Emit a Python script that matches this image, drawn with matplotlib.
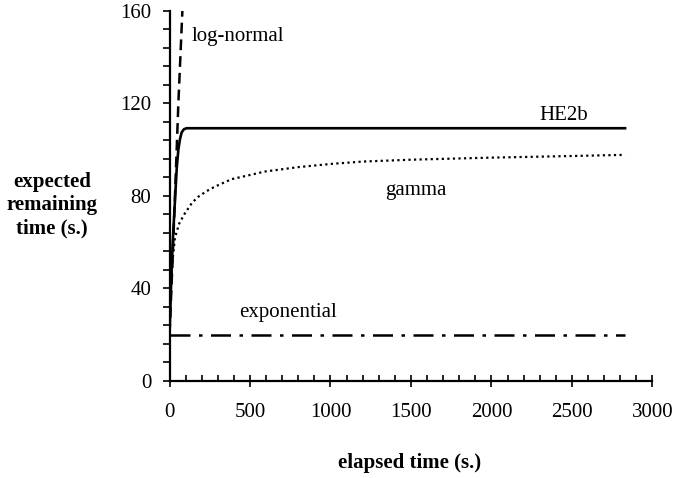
import matplotlib

matplotlib.use("Agg")
import matplotlib.pyplot as plt
from matplotlib.ticker import MultipleLocator

plt.rcParams.update(
    {
        "font.family": ["Liberation Serif", "DejaVu Serif"],
        "font.size": 15,
    }
)

# %% Data

exp_x = [0, 2830]
exp_y = [20, 20]

he2b_x = [0, 10, 20, 30, 45, 55, 65, 76, 90, 107, 2830]
he2b_y = [20, 42, 60, 73, 92, 100, 104.5, 107.5, 108.8, 109.2, 109.2]

lognorm_x = [0, 10, 20, 34, 55, 80, 95]
lognorm_y = [20, 37, 54, 80, 120, 160, 186]

gamma_x = [0, 5, 10, 20, 34, 60, 96, 140, 179, 230, 283, 386, 500, 593,
           800, 1007, 1200, 1500, 2000, 2500, 2830]
gamma_y = [20, 36, 44, 53, 62, 68, 72.5, 77, 79.6, 82, 84, 87.2, 89, 90.5,
           92.4, 93.8, 94.8, 95.6, 96.5, 97.2, 97.7]

labels = ["log-normal", "HE2b", "gamma", "exponential"]
label_pos = [(140, 149), (2300, 114.5), (1340, 82.5), (430, 29.7)]

# %% Plot

fig = plt.figure(figsize=(6.74, 4.78), dpi=100)
ax = fig.add_axes([0.2515, 0.203, 0.7165, 0.7747])

ax.plot(exp_x, exp_y, c="k", lw=1.8, ls=(0, (8, 3.4, 1.4, 3.4)))
ax.plot(he2b_x, he2b_y, c="k", lw=1.9, ls="-")
ax.plot(lognorm_x, lognorm_y, c="k", lw=1.8, ls=(0, (4.3, 2.4)))
ax.plot(gamma_x, gamma_y, c="k", lw=1.6, ls=(0, (1.0, 1.5)))

for text, (tx, ty) in zip(labels, label_pos):
    ax.text(tx, ty, text, ha="left", va="center", fontsize=15)

ax.set_xlim(0, 3000)
ax.set_ylim(0, 160)

ax.xaxis.set_major_locator(MultipleLocator(500))
ax.xaxis.set_minor_locator(MultipleLocator(100))
ax.yaxis.set_major_locator(MultipleLocator(40))
ax.yaxis.set_minor_locator(MultipleLocator(8))

ax.tick_params(axis="x", which="major", direction="inout", length=8,
               width=1.2, pad=12)
ax.tick_params(axis="x", which="minor", direction="in", length=4, width=1.2)
ax.tick_params(axis="y", which="both", direction="out", length=5,
               width=1.2, pad=8)

ax.spines[["top", "right"]].set_visible(False)
for s in ["left", "bottom"]:
    ax.spines[s].set_linewidth(1.6)

fig.text(52 / 674, 1 - 205 / 478, "expected\nremaining\ntime (s.)",
         ha="center", va="center", fontweight="bold", fontsize=15,
         linespacing=1.2)
fig.text(410 / 674, 1 - 463 / 478, "elapsed time (s.)",
         ha="center", va="center", fontweight="bold", fontsize=15)

fig.savefig("out.png", dpi=100)
